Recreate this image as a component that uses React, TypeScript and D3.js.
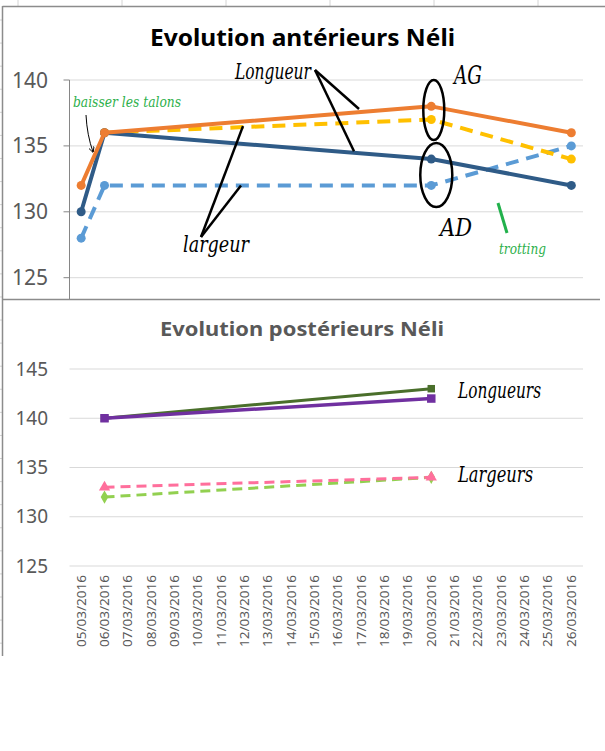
import React from "react";
import * as d3 from "d3";

// dates on the category axis (Excel text axis, one slot per day)
const dates = [
    "05/03/2016", "06/03/2016", "07/03/2016", "08/03/2016", "09/03/2016", "10/03/2016",
    "11/03/2016", "12/03/2016", "13/03/2016", "14/03/2016", "15/03/2016", "16/03/2016",
    "17/03/2016", "18/03/2016", "19/03/2016", "20/03/2016", "21/03/2016", "22/03/2016",
    "23/03/2016", "24/03/2016", "25/03/2016", "26/03/2016",
]

const anteriorTicks = [125, 130, 135, 140]
const posteriorTicks = [125, 130, 135, 140, 145]

// antérieurs
const agLongueur: [string, number][] = [["05/03/2016", 132], ["06/03/2016", 136], ["20/03/2016", 138], ["26/03/2016", 136]]
const adLongueur: [string, number][] = [["05/03/2016", 130], ["06/03/2016", 136], ["20/03/2016", 134], ["26/03/2016", 132]]
const agLargeur: [string, number][] = [["06/03/2016", 136], ["20/03/2016", 137], ["26/03/2016", 134]]
const adLargeur: [string, number][] = [["05/03/2016", 128], ["06/03/2016", 132], ["20/03/2016", 132], ["26/03/2016", 135]]

// postérieurs
const pgLongueur: [string, number][] = [["06/03/2016", 140], ["20/03/2016", 143]]
const pdLongueur: [string, number][] = [["06/03/2016", 140], ["20/03/2016", 142]]
const pgLargeur: [string, number][] = [["06/03/2016", 133], ["20/03/2016", 134]]
const pdLargeur: [string, number][] = [["06/03/2016", 132], ["20/03/2016", 134]]

const hand = "'DejaVu Serif', serif"
const sans = "'Noto Sans', sans-serif"

const App = () => {
    const plotLeft = 69.5
    const plotRight = 583

    const x = d3.scalePoint<string>().domain(dates).range([plotLeft, plotRight]).padding(0.5)
    const yTop = d3.scaleLinear().domain([125, 140]).range([277.7, 80])
    const yBot = d3.scaleLinear().domain([125, 145]).range([566, 369])

    const lineTop = d3.line<[string, number]>().x(d => x(d[0])!).y(d => yTop(d[1]))
    const lineBot = d3.line<[string, number]>().x(d => x(d[0])!).y(d => yBot(d[1]))

    const topSeries = [
        {data: adLargeur, color: "#5B9BD5", dash: "13 8"},
        {data: agLargeur, color: "#FFC000", dash: "13 8"},
        {data: adLongueur, color: "#2F5B87", dash: null},
        {data: agLongueur, color: "#ED7D31", dash: null},
    ]

    const botSeries = [
        {data: pdLargeur, color: "#92D050", dash: "10 6", sym: d3.symbolDiamond, size: 50, width: 3},
        {data: pgLargeur, color: "#FF6F9C", dash: "10 6", sym: d3.symbolTriangle, size: 55, width: 3},
        {data: pgLongueur, color: "#4A6F2B", dash: null, sym: d3.symbolSquare, size: 56, width: 3},
        {data: pdLongueur, color: "#7030A0", dash: null, sym: d3.symbolSquare, size: 72, width: 3.5},
    ]

    const x20 = x("20/03/2016")!

    return (
        <svg width={605} height={751} style={{position: "absolute", left: 0, top: 0, background: "#fff"}}>
            <defs>
                <clipPath id="topClip">
                    <rect x={0} y={0} width={605} height={299}/>
                </clipPath>
                <marker id="arrowHead" viewBox="0 0 10 10" refX="9" refY="5" markerWidth="6" markerHeight="6" orient="auto">
                    <path d="M0,0 L10,5 L0,10" fill="none" stroke="#000" strokeWidth={1.5}/>
                </marker>
            </defs>

            {/* spreadsheet grid bits around the charts */}
            {[18, 122, 226, 330, 434, 538].map(v => (
                <line key={"c" + v} x1={v} x2={v} y1={0} y2={6} stroke="#d4d4d4"/>
            ))}
            {d3.range(20, 656, 23.08).map(v => (
                <line key={"r" + v} x1={0} x2={2} y1={v} y2={v} stroke="#d4d4d4"/>
            ))}

            {/* ---------- top chart ---------- */}
            <g clipPath="url(#topClip)">
                <line x1={2.5} x2={605} y1={6.5} y2={6.5} stroke="#8c8c8c" strokeWidth={1.5}/>
                <line x1={2.5} x2={2.5} y1={6} y2={299} stroke="#8c8c8c" strokeWidth={1.5}/>

                <text x={302.5} y={46} textAnchor="middle" fontFamily={sans} fontWeight="bold" fontSize={23}
                      textLength={305} lengthAdjust="spacingAndGlyphs" fill="#000">Evolution antérieurs Néli</text>

                {anteriorTicks.map(t => (
                    <g key={t}>
                        <line x1={plotLeft} x2={plotRight} y1={yTop(t)} y2={yTop(t)} stroke="#d9d9d9" strokeWidth={1}/>
                        <line x1={plotLeft - 6} x2={plotLeft} y1={yTop(t)} y2={yTop(t)} stroke="#868686"/>
                        <text x={48} y={yTop(t) + 7.5} textAnchor="end" fontFamily={sans} fontSize={21} fill="#595959">{t}</text>
                    </g>
                ))}
                <line x1={plotLeft} x2={plotLeft} y1={yTop(140)} y2={299} stroke="#868686" strokeWidth={1}/>

                {topSeries.map((s, i) => (
                    <g key={i}>
                        <path d={lineTop(s.data)!} fill="none" stroke={s.color} strokeWidth={4}
                              strokeDasharray={s.dash ?? undefined} strokeLinejoin="round"/>
                        {s.data.map(d => (
                            <circle key={d[0]} cx={x(d[0])} cy={yTop(d[1])} r={4.5} fill={s.color}/>
                        ))}
                    </g>
                ))}

                {/* handwritten notes */}
                <text x={73} y={107} fontFamily={hand} fontStyle="italic" fontSize={14} fill="#2DB04B"
                      textLength={108} lengthAdjust="spacingAndGlyphs">baisser les talons</text>
                <path d="M86,115 Q87,135 93,152" fill="none" stroke="#000" strokeWidth={1} markerEnd="url(#arrowHead)"/>

                <text x={235} y={79} fontFamily={hand} fontStyle="italic" fontSize={22} fill="#000"
                      textLength={76} lengthAdjust="spacingAndGlyphs">Longueur</text>
                <line x1={315} y1={70} x2={359} y2={yTop(137.8)} stroke="#000" strokeWidth={2.5}/>
                <line x1={315} y1={70} x2={354} y2={yTop(134.6)} stroke="#000" strokeWidth={2.5}/>

                <text x={454} y={84} fontFamily={hand} fontStyle="italic" fontSize={26} fill="#000"
                      textLength={28} lengthAdjust="spacingAndGlyphs">AG</text>
                <ellipse cx={x20 + 2.5} cy={110} rx={10.5} ry={30} fill="none" stroke="#000" strokeWidth={2.5}/>
                <ellipse cx={x20 + 5} cy={175} rx={16} ry={32} fill="none" stroke="#000" strokeWidth={2.5}/>
                <text x={440} y={236} fontFamily={hand} fontStyle="italic" fontSize={25} fill="#000"
                      textLength={32} lengthAdjust="spacingAndGlyphs">AD</text>

                <text x={183} y={252} fontFamily={hand} fontStyle="italic" fontSize={22} fill="#000"
                      textLength={66} lengthAdjust="spacingAndGlyphs">largeur</text>
                <line x1={201} y1={237} x2={243} y2={yTop(136.5)} stroke="#000" strokeWidth={2.5}/>
                <line x1={201} y1={237} x2={241} y2={yTop(132)} stroke="#000" strokeWidth={2.5}/>

                <line x1={498} y1={203} x2={507} y2={233} stroke="#22B14C" strokeWidth={3}/>
                <text x={499} y={254} fontFamily={hand} fontStyle="italic" fontSize={14} fill="#2DB04B"
                      textLength={47} lengthAdjust="spacingAndGlyphs">trotting</text>
            </g>

            {/* ---------- bottom chart ---------- */}
            <rect x={3} y={299} width={602} height={357} fill="#fff"/>
            <line x1={2.5} x2={600} y1={299.5} y2={299.5} stroke="#8c8c8c" strokeWidth={1.5}/>
            <line x1={2.5} x2={2.5} y1={299} y2={656} stroke="#8c8c8c" strokeWidth={1.5}/>

            <text x={302} y={336} textAnchor="middle" fontFamily={sans} fontWeight="bold" fontSize={20}
                  textLength={284} lengthAdjust="spacingAndGlyphs" fill="#595959">Evolution postérieurs Néli</text>

            {posteriorTicks.map(t => (
                <g key={t}>
                    <line x1={plotLeft} x2={plotRight} y1={yBot(t)} y2={yBot(t)} stroke="#d9d9d9" strokeWidth={1}/>
                    <text x={48} y={yBot(t) + 6.5} textAnchor="end" fontFamily={sans} fontSize={19} fill="#595959">{t}</text>
                </g>
            ))}

            {dates.map(d => (
                <text key={d} transform={`translate(${x(d)! + 4.5},575) rotate(-90)`} textAnchor="end"
                      fontFamily={sans} fontSize={13} fill="#595959" textLength={72} lengthAdjust="spacingAndGlyphs">{d}</text>
            ))}

            {botSeries.map((s, i) => (
                <g key={i}>
                    <path d={lineBot(s.data)!} fill="none" stroke={s.color} strokeWidth={s.width}
                          strokeDasharray={s.dash ?? undefined}/>
                    {s.data.map(d => (
                        <path key={d[0]} transform={`translate(${x(d[0])},${yBot(d[1])})`}
                              d={d3.symbol(s.sym, s.size)()!} fill={s.color}/>
                    ))}
                </g>
            ))}

            <text x={458} y={398} fontFamily={hand} fontStyle="italic" fontSize={22} fill="#000"
                  textLength={83} lengthAdjust="spacingAndGlyphs">Longueurs</text>
            <text x={458} y={482} fontFamily={hand} fontStyle="italic" fontSize={22} fill="#000"
                  textLength={75} lengthAdjust="spacingAndGlyphs">Largeurs</text>
        </svg>
    )
}

export default App
